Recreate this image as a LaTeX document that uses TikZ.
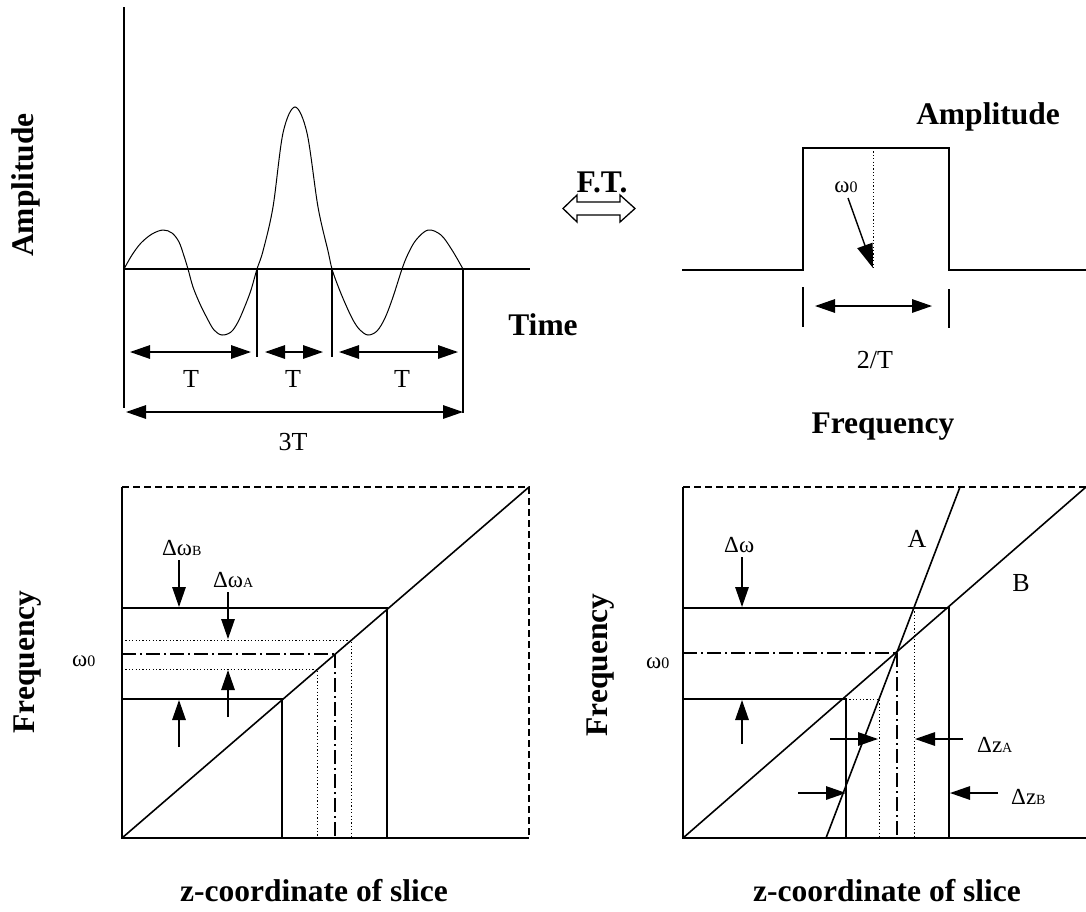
\documentclass[tikz,border=0pt]{standalone}
\usepackage{fontspec}
\setmainfont{Liberation Serif}
\usetikzlibrary{arrows.meta}
\newcommand\sbx[1]{{\fontsize{14}{16}\selectfont #1}}
\newcommand\sbz[1]{{\fontsize{16}{18}\selectfont #1}}
\begin{document}
\begin{tikzpicture}[x=1pt,y=-1pt,
  ln/.style={line width=1.6pt},
  crv/.style={line width=1pt},
  dimar/.style={line width=1.4pt,{Triangle[length=20pt,width=13.5pt]}-{Triangle[length=20pt,width=13.5pt]}},
  ptr/.style={line width=1.4pt,-{Triangle[length=20pt,width=13.5pt]}},
  bigptr/.style={line width=1.4pt,-{Triangle[length=24pt,width=16pt]}},
  dsh/.style={line width=1.4pt,dash pattern=on 7pt off 4pt},
  dd/.style={line width=1.4pt,dash pattern=on 14pt off 4pt on 2pt off 4pt},
  dt/.style={line width=1pt,dash pattern=on 1.2pt off 2.2pt},
  bl/.style={font=\fontsize{31.5}{36}\selectfont\bfseries,inner sep=0pt},
  rg/.style={font=\fontsize{26}{30}\selectfont,inner sep=0pt},
  gk/.style={font=\fontsize{23}{26}\selectfont,inner sep=0pt},
]
\useasboundingbox (0,0) rectangle (1086,911);

% ---------------- top left: sinc ----------------
\coordinate (axT) at (124,7);
\coordinate (axO) at (124,269);
\coordinate (axE) at (530,269);
\coordinate (axB) at (124,408);
\draw[ln] (axT) -- (axB);
\draw[ln] (axO) -- (axE);
\draw[crv] plot[smooth,tension=0.55] coordinates {
 (124,269) (132,255) (141,243) (152,234) (163,230) (172,233) (179,242) (184,256) (188,269)
 (193,287) (200,304) (207,318) (214,330) (222,335) (231,332) (238,322) (245,306) (251,290) (257,269)
 (263,251) (273,207) (283,133) (295,107) (307,133) (318,207) (328,251) (332,269)
 (338,286) (345,303) (353,320) (360,330) (368,335) (377,331) (385,318) (393,297) (402,269)
 (408,254) (416,240) (428,230) (441,235) (452,250) (463,269)};
\coordinate (z1t) at (257,269); \coordinate (z1b) at (257,357);
\coordinate (z2t) at (332,269); \coordinate (z2b) at (332,357);
\coordinate (z3t) at (463,269); \coordinate (z3b) at (463,413);
\draw[ln] (z1t) -- (z1b);
\draw[ln] (z2t) -- (z2b);
\draw[ln] (z3t) -- (z3b);
\coordinate (d1a) at (130,352); \coordinate (d1b) at (251,352);
\coordinate (d2a) at (265,352); \coordinate (d2b) at (323,352);
\coordinate (d3a) at (339,352); \coordinate (d3b) at (458,352);
\coordinate (d4a) at (126,412); \coordinate (d4b) at (463,412);
\draw[dimar] (d1a) -- (d1b);
\draw[dimar] (d2a) -- (d2b);
\draw[dimar] (d3a) -- (d3b);
\draw[dimar] (d4a) -- (d4b);
\node[rg,anchor=base] (t1) at (191,387) {T};
\node[rg,anchor=base] (t2) at (293,387) {T};
\node[rg,anchor=base] (t3) at (402,387) {T};
\node[rg,anchor=base] (t4) at (293,450) {3T};
\node[bl,rotate=90] (ampL) at (26,185) {Amplitude};
\node[bl,anchor=base] (time) at (543,335) {Time};

% ---------------- F.T. ----------------
\node[bl,anchor=base] (ft) at (602,192) {F.T.};
\draw[line width=1.3pt,fill=white] (563,208.5) -- (577,195) -- (577,202) -- (620,202) -- (620,195)
  -- (635,208.5) -- (620,222) -- (620,215) -- (577,215) -- (577,222) -- cycle;

% ---------------- top right: rect ----------------
\coordinate (r0) at (682,270);
\coordinate (r1) at (803,270);
\coordinate (r2) at (803,148);
\coordinate (r3) at (949,148);
\coordinate (r4) at (949,270);
\coordinate (r5) at (1086,270);
\draw[ln] (r0) -- (r1) -- (r2) -- (r3) -- (r4) -- (r5);
\coordinate (rc1) at (873,148); \coordinate (rc2) at (873,270);
\draw[dt] (rc1) -- (rc2);
\node[gk,anchor=base] (w0top) at (846,192) {ω\sbz{0}};
\coordinate (wa) at (848,198);
\coordinate (wb) at (873,268);
\draw[bigptr] (wa) -- (wb);
\coordinate (tk1a) at (803,287); \coordinate (tk1b) at (803,327);
\coordinate (tk2a) at (949,289); \coordinate (tk2b) at (949,328);
\draw[ln] (tk1a) -- (tk1b);
\draw[ln] (tk2a) -- (tk2b);
\coordinate (dr1) at (815,306); \coordinate (dr2) at (932,306);
\draw[dimar] (dr1) -- (dr2);
\node[rg,anchor=base] (twoT) at (875,368) {2/T};
\node[bl,anchor=base] (freqR) at (883,433) {Frequency};
\node[bl,anchor=base] (ampR) at (988,124) {Amplitude};

% ---------------- bottom left ----------------
\coordinate (LO) at (122,838);
\coordinate (LT) at (122,487);
\coordinate (LTR) at (529,487);
\coordinate (LBR) at (529,838);
\draw[ln] (LT) -- (LO) -- (LBR);
\draw[dsh] (LT) -- (LTR) -- (LBR);
\draw[ln] (LO) -- (LTR);
\draw[ln] (122,608) -- (387,608) -- (387,838);
\draw[ln] (122,699) -- (282,699) -- (282,838);
\draw[dd] (122,654) -- (335,654);
\draw[dd] (335,654) -- (335,838);
\draw[dt] (122,640) -- (351,640) -- (351,838);
\draw[dt] (122,669) -- (317,669) -- (317,838);
\coordinate (bA1) at (179,560); \coordinate (bA2) at (179,607);
\coordinate (bA3) at (179,747); \coordinate (bA4) at (179,700);
\coordinate (aA1) at (228,592); \coordinate (aA2) at (228,639);
\coordinate (aA3) at (228,717); \coordinate (aA4) at (228,670);
\draw[ptr] (bA1) -- (bA2);
\draw[ptr] (bA3) -- (bA4);
\draw[ptr] (aA1) -- (aA2);
\draw[ptr] (aA3) -- (aA4);
\node[gk,anchor=base west] (dwB) at (162,555) {Δω\sbx{B}};
\node[gk,anchor=base west] (dwA) at (213,587) {Δω\sbx{A}};
\node[gk,anchor=base west] (w0L) at (72,666) {ω\sbz{0}};
\node[bl,rotate=90] (freqL) at (28,662) {Frequency};
\node[bl,anchor=base] (zL) at (314,901) {z-coordinate of slice};

% ---------------- bottom right ----------------
\coordinate (RO) at (683,838);
\coordinate (RT) at (683,487);
\coordinate (RTR) at (1086,487);
\coordinate (RBR) at (1086,838);
\coordinate (Aa) at (826,838);
\coordinate (Ab) at (960,487);
\draw[ln] (RT) -- (RO) -- (RBR);
\draw[dsh] (RT) -- (RTR);
\draw[ln] (RO) -- (RTR);
\draw[ln] (Aa) -- (Ab);
\draw[ln] (683,608) -- (949,608) -- (949,838);
\draw[ln] (683,699) -- (846,699) -- (846,838);
\draw[dd] (683,653) -- (897,653);
\draw[dd] (897,653) -- (897,838);
\draw[dt] (846,699) -- (879,699) -- (879,838);
\draw[dt] (914,608) -- (914,838);
\coordinate (dw1) at (742,557); \coordinate (dw2) at (742,607);
\coordinate (dw3) at (742,744); \coordinate (dw4) at (742,700);
\draw[ptr] (dw1) -- (dw2);
\draw[ptr] (dw3) -- (dw4);
\coordinate (za1) at (830,739); \coordinate (za2) at (878,739);
\coordinate (za3) at (963,739); \coordinate (za4) at (915,739);
\coordinate (zb1) at (798,793); \coordinate (zb2) at (846,793);
\coordinate (zb3) at (998,793); \coordinate (zb4) at (950,793);
\draw[ptr] (za1) -- (za2);
\draw[ptr] (za3) -- (za4);
\draw[ptr] (zb1) -- (zb2);
\draw[ptr] (zb3) -- (zb4);
\node[gk,anchor=base west] (dw) at (724,552) {Δω};
\node[rg,anchor=base] (lA) at (917,547) {A};
\node[rg,anchor=base] (lB) at (1021,591) {B};
\node[gk,anchor=base west] (dzA) at (977,752) {Δz\sbx{A}};
\node[gk,anchor=base west] (dzB) at (1011,804) {Δz\sbx{B}};
\node[gk,anchor=base west] (w0R) at (646,668) {ω\sbz{0}};
\node[bl,rotate=90] (freqR2) at (601,665) {Frequency};
\node[bl,anchor=base] (zR) at (887,901) {z-coordinate of slice};
\end{tikzpicture}
\end{document}
